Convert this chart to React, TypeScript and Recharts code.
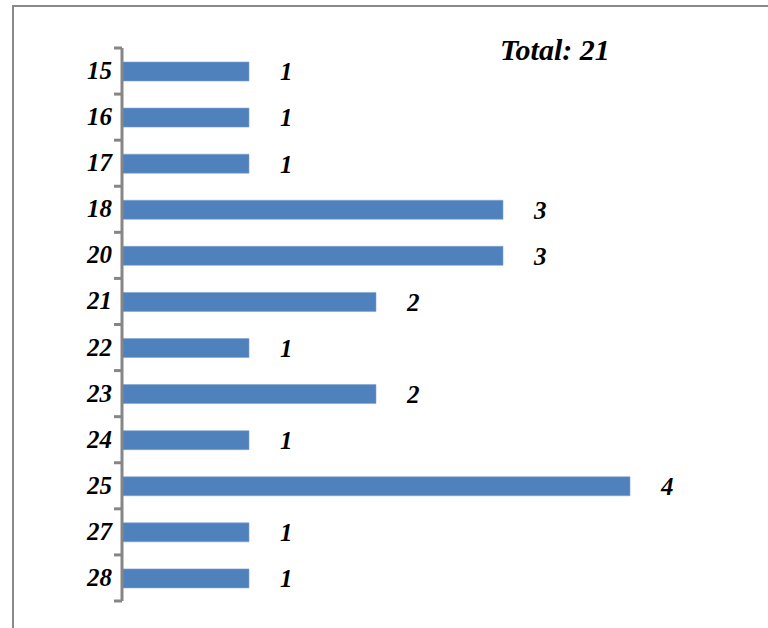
import React from 'react';
import { BarChart, Bar, XAxis, YAxis, LabelList } from 'recharts';

const ages = ['15', '16', '17', '18', '20', '21', '22', '23', '24', '25', '27', '28'];
const counts = [1, 1, 1, 3, 3, 2, 1, 2, 1, 4, 1, 1];
const totalLabel = 'Total: 21';

const data = ages.map((age, i) => ({ age, count: counts[i] }));

const W = 768;
const H = 628;
const margin = { top: 48, right: 138, bottom: 27, left: 0 };
const axisWidth = 122;
const band = (H - margin.top - margin.bottom) / ages.length;
const font = 'Liberation Serif';

const AgeTick = (props: any) => {
  const { x, y, payload, index } = props;
  const axisX = x + 9;
  return (
    <g>
      <line x1={axisX - 8} x2={axisX} y1={y - band / 2} y2={y - band / 2} stroke="#868686" strokeWidth={3} />
      {index === ages.length - 1 && (
        <line x1={axisX - 8} x2={axisX} y1={y + band / 2} y2={y + band / 2} stroke="#868686" strokeWidth={3} />
      )}
      <text x={x - 1} y={y} dy={8} textAnchor="end" style={{ fontFamily: font, fontSize: 25, fontWeight: 'bold', fontStyle: 'italic' }} fill="#000">
        {payload.value}
      </text>
    </g>
  );
};

export default function App() {
  return (
    <div style={{ position: 'absolute', left: 0, top: 0, width: W, height: H, background: '#fff' }}>
      <div style={{ position: 'absolute', left: 12, top: 5, right: -10, bottom: -10, borderLeft: '2px solid #898989', borderTop: '2px solid #898989' }} />
      <div style={{ position: 'absolute', left: 500, top: 33, fontFamily: font, fontSize: 30, fontWeight: 'bold', fontStyle: 'italic', whiteSpace: 'nowrap' }}>
        {totalLabel}
      </div>
      <div style={{ position: 'absolute', left: 0, top: 0 }}>
        <BarChart width={W} height={H} data={data} layout="vertical" margin={margin}>
          <XAxis type="number" domain={[0, 4]} hide />
          <YAxis
            type="category"
            dataKey="age"
            width={axisWidth}
            tickLine={false}
            tickSize={8}
            tickMargin={1}
            axisLine={{ stroke: '#868686', strokeWidth: 3 }}
            tick={<AgeTick />}
            interval={0}
          />
          <Bar dataKey="count" fill="#4F81BD" stroke="#7FA3D0" strokeWidth={0.6} barSize={19} isAnimationActive={false}>
            <LabelList
              dataKey="count"
              position="right"
              offset={31}
              fill="#000"
              style={{ fontFamily: font, fontSize: 25, fontWeight: 'bold', fontStyle: 'italic' }}
            />
          </Bar>
        </BarChart>
      </div>
    </div>
  );
}
